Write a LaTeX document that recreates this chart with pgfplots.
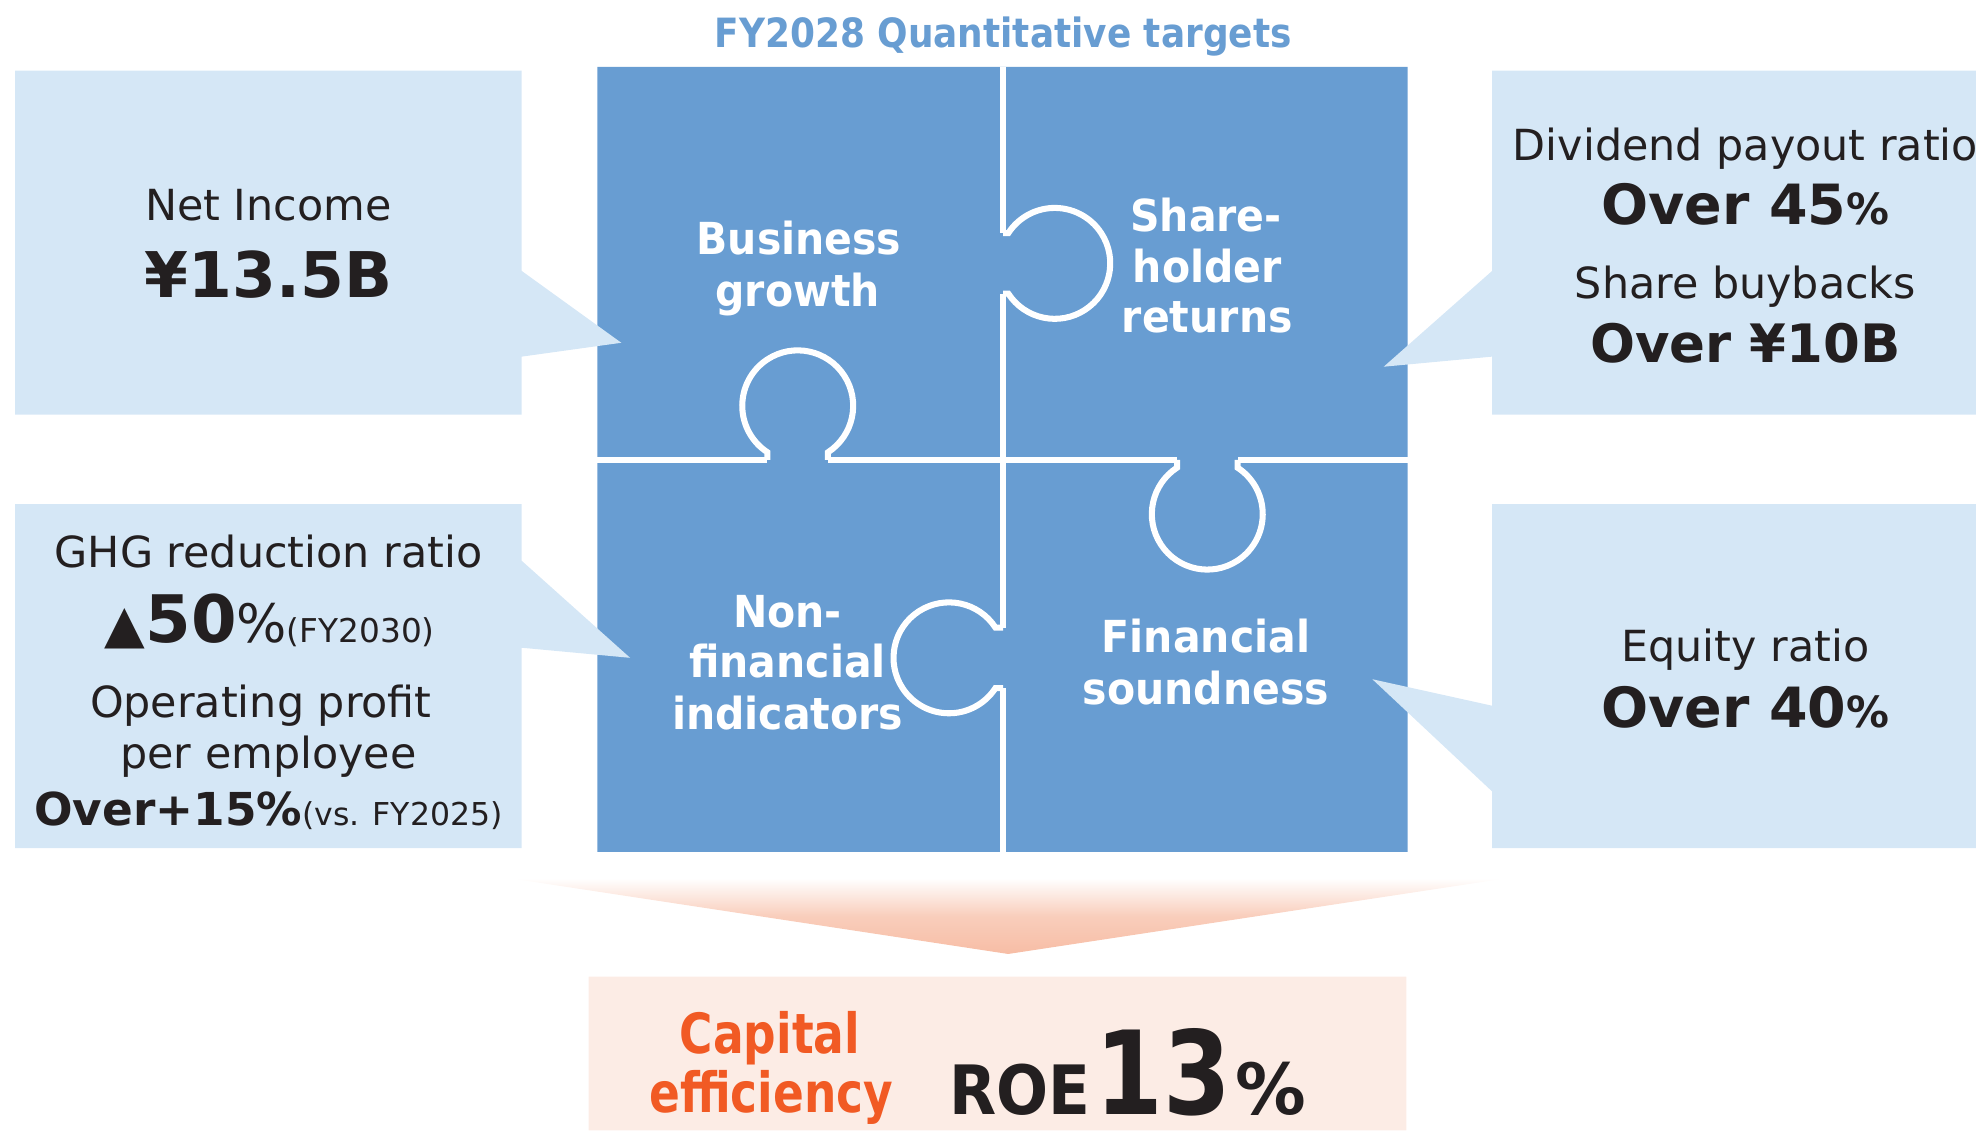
\documentclass[border=0pt]{standalone}
\usepackage{pgfplots}
\pgfplotsset{compat=1.18}
\usepackage{fontspec}
\setmainfont{DejaVu Sans}

\definecolor{pblue}{HTML}{689DD2}
\definecolor{lblue}{HTML}{D5E7F6}
\definecolor{txt}{HTML}{231F20}
\definecolor{orng}{HTML}{F15A24}
\definecolor{peach}{HTML}{FCECE5}
\definecolor{apeach}{HTML}{F7BDA5}
\newcommand{\fs}[1]{\fontsize{#1}{#1}\selectfont}

\begin{document}
\begin{tikzpicture}
\begin{axis}[
    name=ax,
    scale only axis,
    width=784pt, height=449pt,
    xmin=0, xmax=1568, ymin=0, ymax=898,
    y dir=reverse,
    axis lines=none, ticks=none,
    clip=false
]
% --- puzzle square ---
\addplot[fill=pblue, draw=none] coordinates {(474,53) (1117,53) (1117,676) (474,676) (474,53)};
\draw[white, line width=2.6pt] (axis cs:796,53) -- (axis cs:796,676);
\draw[white, line width=2.6pt] (axis cs:474,365) -- (axis cs:1117,365);

% knobs: blank the divider at the neck, then outline
\fill[pblue] (axis cs:633,322) circle[radius=22pt];
\fill[pblue] (axis cs:609,354) rectangle (axis cs:657,370);
\fill[pblue] (axis cs:837,209) circle[radius=22pt];
\fill[pblue] (axis cs:790,185) rectangle (axis cs:806,233);
\fill[pblue] (axis cs:958,408) circle[radius=22pt];
\fill[pblue] (axis cs:934,359) rectangle (axis cs:982,375);
\fill[pblue] (axis cs:753,522) circle[radius=22pt];
\fill[pblue] (axis cs:786,498) rectangle (axis cs:802,546);

\draw[white, line width=2.4pt] (axis cs:657,365) -- (axis cs:657,358.9)
    arc[start angle=303.06, end angle=596.94, radius=22pt] -- (axis cs:609,365);
\draw[white, line width=2.4pt] (axis cs:796,233) -- (axis cs:800.1,233)
    arc[start angle=213.06, end angle=506.94, radius=22pt] -- (axis cs:796,185);
\draw[white, line width=2.4pt] (axis cs:934,365) -- (axis cs:934,371.1)
    arc[start angle=123.06, end angle=416.94, radius=22pt] -- (axis cs:982,365);
\draw[white, line width=2.4pt] (axis cs:796,498) -- (axis cs:789.9,498)
    arc[start angle=33.06, end angle=326.94, radius=22pt] -- (axis cs:796,546);

% --- callout boxes ---
\addplot[fill=lblue, draw=none] coordinates {(12,56) (414,56) (414,215) (493,272) (414,283) (414,329) (12,329) (12,56)};
\addplot[fill=lblue, draw=none] coordinates {(1184,56) (1568,56) (1568,329) (1184,329) (1184,283) (1098,291) (1184,215) (1184,56)};
\addplot[fill=lblue, draw=none] coordinates {(12,400) (414,400) (414,445) (500,522) (414,514) (414,673) (12,673) (12,400)};
\addplot[fill=lblue, draw=none] coordinates {(1184,400) (1568,400) (1568,673) (1184,673) (1184,628) (1089,539) (1184,560) (1184,400)};

% --- arrow and result box ---
\shade[top color=white, bottom color=apeach, middle color=apeach!75]
    (axis cs:405,697) -- (axis cs:1195,697) -- (axis cs:800,757) -- cycle;
\addplot[fill=peach, draw=none] coordinates {(467,775) (1116,775) (1116,897) (467,897) (467,775)};

% --- title ---
\node[anchor=base, inner sep=0pt, text=pblue] at (axis cs:796,38)
    {\scalebox{0.89}[1]{\fs{16}\bfseries FY2028 Quantitative targets}};

% --- puzzle labels ---
\tikzset{plab/.style={anchor=base, inner sep=0pt, text=white}}
\node[plab] at (axis cs:634,202) {\scalebox{0.93}[1]{\fs{17.5}\bfseries Business}};
\node[plab] at (axis cs:633,243) {\scalebox{0.93}[1]{\fs{17.5}\bfseries growth}};
\node[plab] at (axis cs:957,184) {\scalebox{0.93}[1]{\fs{17.5}\bfseries Share-}};
\node[plab] at (axis cs:958,224) {\scalebox{0.93}[1]{\fs{17.5}\bfseries holder}};
\node[plab] at (axis cs:958,264) {\scalebox{0.93}[1]{\fs{17.5}\bfseries returns}};
\node[plab] at (axis cs:625,498) {\scalebox{0.93}[1]{\fs{17.5}\bfseries Non-}};
\node[plab] at (axis cs:625,538) {\scalebox{0.93}[1]{\fs{17.5}\bfseries financial}};
\node[plab] at (axis cs:625,579) {\scalebox{0.93}[1]{\fs{17.5}\bfseries indicators}};
\node[plab] at (axis cs:957,518) {\scalebox{0.93}[1]{\fs{17.5}\bfseries Financial}};
\node[plab] at (axis cs:957,559) {\scalebox{0.93}[1]{\fs{17.5}\bfseries soundness}};

% --- callout texts ---
\tikzset{ctx/.style={anchor=base, inner sep=0pt, text=txt}}
\node[ctx] at (axis cs:213,175) {\fs{17}Net Income};
\node[ctx] at (axis cs:213,236) {\fs{25}\bfseries ¥13.5B};

\node[ctx] at (axis cs:1385,127) {\fs{17}Dividend payout ratio};
\node[ctx] at (axis cs:1385,178) {\fs{22}\bfseries Over 45{\fs{17}\%}};
\node[ctx] at (axis cs:1385,237) {\fs{17}Share buybacks};
\node[ctx] at (axis cs:1385,288) {\fs{21}\bfseries Over ¥10B};

\node[ctx] at (axis cs:213,450) {\fs{17}GHG reduction ratio};
\node[ctx] at (axis cs:214,510) {{\fs{21}▲}{\fs{26}\bfseries 50}{\fs{21}\%}{\fs{13}(FY2030)}};
\node[ctx] at (axis cs:207,569) {\fs{17}Operating profit};
\node[ctx] at (axis cs:213,610) {\fs{17}per employee};
\node[ctx] at (axis cs:213,655) {{\fs{18}\bfseries Over+15\%}{\fs{12.5}(vs. FY2025)}};

\node[ctx] at (axis cs:1385,525) {\fs{17}Equity ratio};
\node[ctx] at (axis cs:1385,577) {\fs{22}\bfseries Over 40{\fs{17}\%}};

% --- capital efficiency ---
\node[anchor=base, inner sep=0pt, text=orng] at (axis cs:611,836)
    {\scalebox{0.82}[1]{\fs{22}\bfseries Capital}};
\node[anchor=base, inner sep=0pt, text=orng] at (axis cs:612,883)
    {\scalebox{0.82}[1]{\fs{22}\bfseries efficiency}};
\node[anchor=base west, inner sep=0pt, text=txt] at (axis cs:753,884)
    {\scalebox{0.9}[1]{\fs{27}\bfseries ROE}};
\node[anchor=base west, inner sep=0pt, text=txt] at (axis cs:869,884)
    {\scalebox{0.84}[1]{\fs{46}\bfseries 13}};
\node[anchor=base west, inner sep=0pt, text=txt] at (axis cs:980,884)
    {\fs{28}\bfseries\%};
\end{axis}
\pgfresetboundingbox
\path (ax.south west) rectangle (ax.north east);
\end{tikzpicture}
\end{document}
